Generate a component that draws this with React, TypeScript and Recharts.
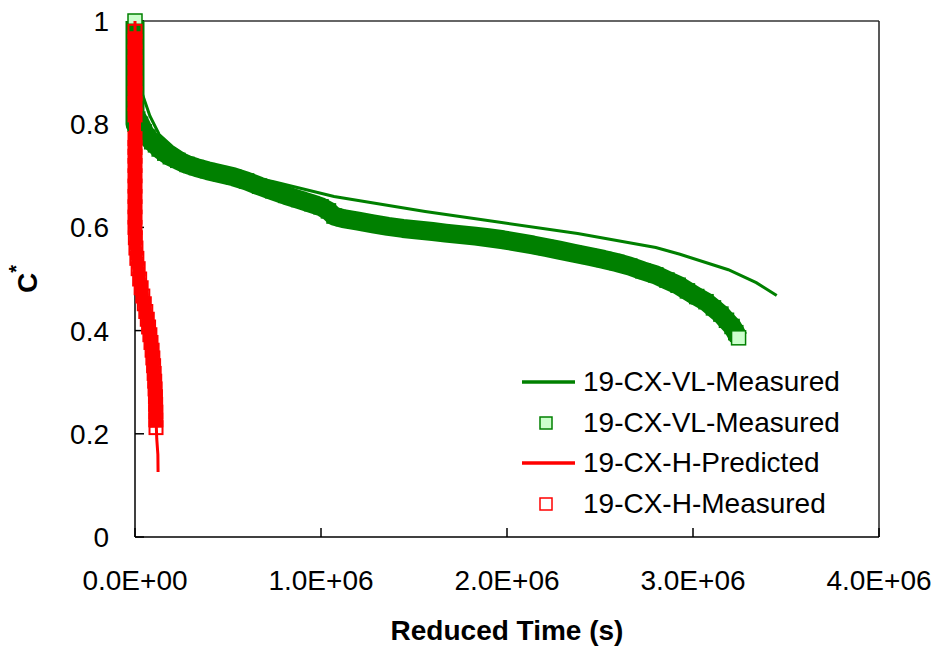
import React from 'react';
import { Legend, ReferenceLine, Scatter, ScatterChart, XAxis, YAxis } from 'recharts';

const FONT = '"Liberation Sans", Arial, sans-serif';

const X_TICKS = [0, 1e6, 2e6, 3e6, 4e6];
const Y_TICKS = [0, 0.2, 0.4, 0.6, 0.8, 1];
const SERIES_NAMES = ['19-CX-VL-Measured', '19-CX-VL-Measured', '19-CX-H-Predicted', '19-CX-H-Measured'];

// [reduced time (s), C*]
const VL_LINE: [number, number][] = [
  [0, 1.0], [2e4, 0.9], [4e4, 0.858], [8e4, 0.816], [1.3e5, 0.78], [2e5, 0.757],
  [2.8e5, 0.738], [3.5e5, 0.722], [5e5, 0.705], [7.4e5, 0.689], [1.07e6, 0.66],
  [1.56e6, 0.631], [1.98e6, 0.609], [2.38e6, 0.588], [2.8e6, 0.561], [2.93e6, 0.548],
  [3.19e6, 0.518], [3.34e6, 0.493], [3.45e6, 0.468],
];

const VL_MEASURED: [number, number][] = [
  [0, 1.0], [0, 0.98], [0, 0.96], [0, 0.94], [0, 0.92], [0, 0.9], [0, 0.88], [0, 0.86],
  [0, 0.84], [0, 0.82], [0, 0.8], [1.5e4, 0.81], [3e4, 0.8], [5e4, 0.785], [7e4, 0.775],
  [9e4, 0.766], [1.1e5, 0.76], [1.3e5, 0.752], [1.6e5, 0.744], [1.9e5, 0.737], [2.3e5, 0.73],
  [2.8e5, 0.722], [3.3e5, 0.716], [3.9e5, 0.71], [4.6e5, 0.704], [5.3e5, 0.698], [6e5, 0.69],
  [6.7e5, 0.68], [7.4e5, 0.671], [8.1e5, 0.662], [8.8e5, 0.654], [9.5e5, 0.646], [1.0e6, 0.64],
  [1.04e6, 0.632], [1.07e6, 0.622], [1.12e6, 0.617], [1.2e6, 0.612], [1.28e6, 0.607],
  [1.36e6, 0.602], [1.44e6, 0.598], [1.52e6, 0.595], [1.6e6, 0.592], [1.67e6, 0.589],
  [1.75e6, 0.586], [1.83e6, 0.583], [1.9e6, 0.58], [1.98e6, 0.576], [2.06e6, 0.571],
  [2.14e6, 0.566], [2.21e6, 0.561], [2.28e6, 0.556], [2.36e6, 0.55], [2.44e6, 0.544],
  [2.52e6, 0.538], [2.59e6, 0.532], [2.66e6, 0.525], [2.73e6, 0.516], [2.8e6, 0.508],
  [2.86e6, 0.498], [2.92e6, 0.488], [2.97e6, 0.477], [3.02e6, 0.466], [3.07e6, 0.456],
  [3.11e6, 0.444], [3.15e6, 0.432], [3.18e6, 0.42], [3.21e6, 0.408], [3.23e6, 0.396],
  [3.245e6, 0.386],
];

const H_LINE: [number, number][] = [
  [0, 1.0], [2e3, 0.8], [5e3, 0.6], [2e4, 0.52], [4.5e4, 0.46], [7e4, 0.41], [9e4, 0.36],
  [1.03e5, 0.31], [1.1e5, 0.26], [1.15e5, 0.21], [1.17e5, 0.19], [1.23e5, 0.16], [1.24e5, 0.126],
];

const H_MEASURED: [number, number][] = [
  [0, 0.98], [0, 0.96], [0, 0.94], [0, 0.92], [0, 0.9], [0, 0.88], [0, 0.86], [0, 0.84], [0, 0.818],
  [0, 0.772], [0, 0.755], [0, 0.738], [0, 0.72], [0, 0.7], [0, 0.68], [0, 0.66], [0, 0.64],
  [0, 0.62], [0, 0.6], [2e3, 0.58], [5e3, 0.56], [1e4, 0.54], [1.7e4, 0.52], [2.5e4, 0.5],
  [3.3e4, 0.483], [4.2e4, 0.467], [5e4, 0.452], [5.8e4, 0.437], [6.6e4, 0.422], [7.3e4, 0.407],
  [8e4, 0.392], [8.6e4, 0.377], [9.2e4, 0.362], [9.6e4, 0.347], [1e5, 0.332], [1.03e5, 0.317],
  [1.06e5, 0.302], [1.08e5, 0.287], [1.1e5, 0.272], [1.11e5, 0.257], [1.12e5, 0.242],
  [1.12e5, 0.227], [1.13e5, 0.212],
];

const GREEN = '#008000';
const LIGHT_GREEN = '#ccffcc';
const RED = '#ff0000';

const toPoints = (rows: [number, number][]) => rows.map(([t, c]) => ({ t, c }));

const fmtSci = (v: number) => {
  const [m, e] = v.toExponential(1).split('e');
  return `${m}E${e[0]}${e.slice(1).padStart(2, '0')}`;
};

const vlFirst = VL_MEASURED[0];
const vlLast = VL_MEASURED[VL_MEASURED.length - 1];

const GreenSquare = (props: any) => {
  const { cx, cy, payload } = props;
  if (cx == null || cy == null) return <g />;
  const isEnd =
    (payload?.t === vlFirst[0] && payload?.c === vlFirst[1]) ||
    (payload?.t === vlLast[0] && payload?.c === vlLast[1]);
  return (
    <rect x={cx - 7} y={cy - 7} width={14} height={14}
      fill={isEnd ? LIGHT_GREEN : GREEN} stroke={GREEN} strokeWidth={1.5} />
  );
};

const RedSquare = (props: any) => {
  const { cx, cy } = props;
  if (cx == null || cy == null) return <g />;
  return <rect x={cx - 6.5} y={cy - 6.5} width={13} height={13} fill="none" stroke={RED} strokeWidth={2} />;
};

const NoShape = () => <g />;

const LEGEND_ICONS = [
  { kind: 'line', color: GREEN, fill: GREEN },
  { kind: 'square', color: GREEN, fill: LIGHT_GREEN },
  { kind: 'line', color: RED, fill: RED },
  { kind: 'square', color: RED, fill: '#fff' },
];

const ChartLegend = () => (
  <div style={{ fontFamily: FONT, fontSize: 28, color: '#000' }}>
    {SERIES_NAMES.map((name, i) => {
      const icon = LEGEND_ICONS[i];
      return (
        <div key={i} style={{ display: 'flex', alignItems: 'center', height: 40.5 }}>
          <svg width={61} height={20} style={{ flex: 'none' }}>
            {icon.kind === 'line' ? (
              <line x1={0} x2={53} y1={10} y2={10} stroke={icon.color} strokeWidth={3.5} />
            ) : (
              <rect x={18} y={4} width={12} height={12} fill={icon.fill} stroke={icon.color} strokeWidth={1.5} />
            )}
          </svg>
          <span style={{ whiteSpace: 'nowrap' }}>{name}</span>
        </div>
      );
    })}
  </div>
);

const tickStyle = { fill: '#000', fontSize: 28, fontFamily: FONT };

export default function App() {
  return (
    <div style={{ position: 'absolute', left: 0, top: 0, width: 938, height: 650, background: '#fff' }}>
      <ScatterChart width={938} height={650} margin={{ top: 21, right: 59, bottom: 0, left: 0 }}>
        <XAxis
          type="number"
          dataKey="t"
          domain={[0, 4e6]}
          ticks={X_TICKS}
          interval={0}
          tickFormatter={fmtSci}
          height={113}
          tick={tickStyle}
          tickSize={-9}
          tickMargin={42}
          axisLine={{ stroke: '#000', strokeWidth: 1.5 }}
          tickLine={{ stroke: '#000', strokeWidth: 1.5 }}
          label={{
            content: (p: any) => {
              const vb = p.viewBox;
              return (
                <text x={vb.x + vb.width / 2} y={vb.y + 93} textAnchor="middle" dominantBaseline="central"
                  fontFamily={FONT} fontSize={28} fontWeight="bold" fill="#000">
                  Reduced Time (s)
                </text>
              );
            },
          }}
        />
        <YAxis
          type="number"
          dataKey="c"
          domain={[0, 1]}
          ticks={Y_TICKS}
          interval={0}
          width={135}
          tick={tickStyle}
          tickSize={-9}
          tickMargin={35}
          axisLine={{ stroke: '#000', strokeWidth: 1.5 }}
          tickLine={{ stroke: '#000', strokeWidth: 1.5 }}
          label={{
            content: (p: any) => {
              const vb = p.viewBox;
              const x = vb.x + 27;
              const y = vb.y + vb.height / 2;
              return (
                <text x={x} y={y} transform={`rotate(-90, ${x}, ${y})`} textAnchor="middle"
                  dominantBaseline="central" fontFamily={FONT} fontSize={28} fontWeight="bold" fill="#000">
                  C<tspan baselineShift="super" fontSize={20}>*</tspan>
                </text>
              );
            },
          }}
        />
        <ReferenceLine y={1} stroke="#333" strokeWidth={1.5} />
        <ReferenceLine x={4e6} stroke="#222" strokeWidth={1.5} />
        <Scatter
          name={SERIES_NAMES[0]}
          data={toPoints(VL_LINE)}
          line={{ stroke: GREEN, strokeWidth: 3 }}
          shape={NoShape}
          legendType="line"
          fill={GREEN}
          isAnimationActive={false}
        />
        <Scatter
          name={SERIES_NAMES[1]}
          data={toPoints(VL_MEASURED)}
          line={{ stroke: GREEN, strokeWidth: 19, strokeLinejoin: 'round' }}
          shape={GreenSquare}
          legendType="square"
          fill={LIGHT_GREEN}
          isAnimationActive={false}
        />
        <Scatter
          name={SERIES_NAMES[2]}
          data={toPoints(H_LINE)}
          line={{ stroke: RED, strokeWidth: 3 }}
          shape={NoShape}
          legendType="line"
          fill={RED}
          isAnimationActive={false}
        />
        <Scatter
          name={SERIES_NAMES[3]}
          data={toPoints(H_MEASURED)}
          line={{ stroke: RED, strokeWidth: 12, strokeLinejoin: 'round' }}
          shape={RedSquare}
          legendType="square"
          fill="#fff"
          isAnimationActive={false}
        />
        <Legend
          layout="horizontal"
          align="center"
          verticalAlign="middle"
          content={() => <ChartLegend />}
          wrapperStyle={{ position: 'absolute', left: 522, top: 362, width: 360 }}
        />
      </ScatterChart>
    </div>
  );
}
